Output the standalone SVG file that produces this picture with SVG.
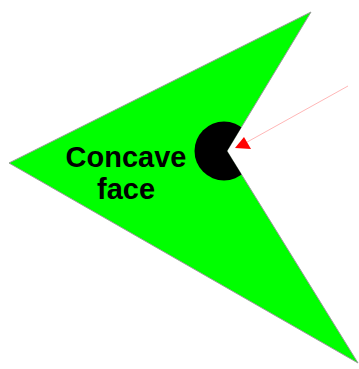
<svg xmlns="http://www.w3.org/2000/svg" width="359" height="369" viewBox="0 0 359 369">
<style>
.lbl{font-family:"Liberation Sans",Arial,sans-serif;font-weight:bold;font-size:29px;fill:#000;text-anchor:middle}
</style>
<defs>
<clipPath id="cp"><polygon points="9,163 311,12 227,151 358,363"/></clipPath>
<marker id="ah" viewBox="0 0 10 10" refX="10" refY="5" markerWidth="10" markerHeight="10" markerUnits="userSpaceOnUse" orient="auto"><path d="M0,0 L10,5 L0,10 z" fill="#f00"/></marker>
</defs>
<rect width="359" height="369" fill="#fff"/>
<g id="face">
<polygon points="9,163 311,12 227,151 358,363" fill="#00ff00" stroke="#999" stroke-width="1"/>
<circle cx="224" cy="151" r="29.5" fill="#000" clip-path="url(#cp)"/>
<text class="lbl" x="126" y="167">Concave</text>
<text class="lbl" x="126" y="199">face</text>
</g>
<g id="connectors">
<line x1="348" y1="86" x2="240" y2="146" stroke="#f99" stroke-width="1" stroke-opacity="0.7"/>
<polygon points="235,148 251,149 244,137" fill="#f00"/>
</g>
</svg>
